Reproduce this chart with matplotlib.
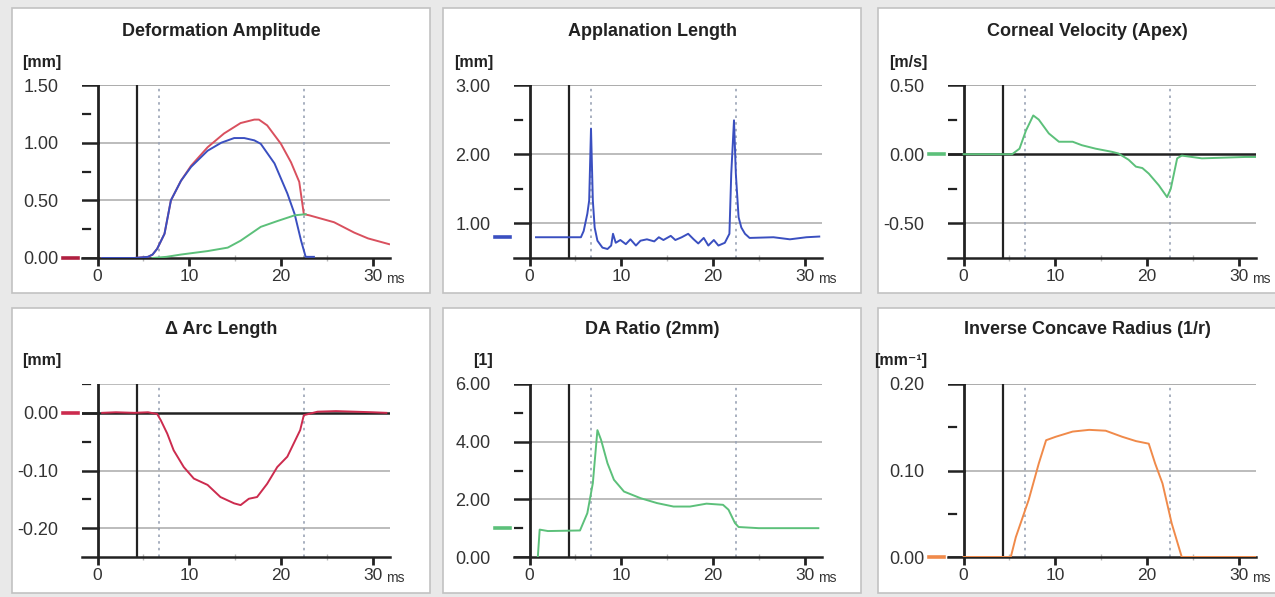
import matplotlib
matplotlib.use("Agg")
import matplotlib.pyplot as plt
import matplotlib.transforms as mtransforms
from matplotlib.patches import Rectangle

plt.rcParams["font.family"] = ["Liberation Sans", "DejaVu Sans"]

# ---- data (time in ms) ----
titles = ["Deformation Amplitude", "Applanation Length", "Corneal Velocity (Apex)",
          "\u0394 Arc Length", "DA Ratio (2mm)", "Inverse Concave Radius (1/r)"]
units = ["[mm]", "[mm]", "[m/s]", "[mm]", "[1]", "[mm\u207b\u00b9]"]

da_red_t = [0.5, 4.0, 5.5, 6.0, 6.5, 7.3, 8.0, 9.1, 10.2, 12.0, 13.8, 15.6, 17.1, 17.6,
            18.5, 20.0, 21.1, 22.0, 22.5, 23.1, 25.8, 28.0, 29.5, 31.8]
da_red_v = [0.0, 0.0, 0.01, 0.03, 0.08, 0.21, 0.50, 0.67, 0.80, 0.96, 1.08, 1.17, 1.20, 1.20,
            1.15, 0.99, 0.83, 0.66, 0.38, 0.37, 0.31, 0.22, 0.17, 0.12]
da_blue_t = [0.5, 4.0, 5.5, 6.0, 6.5, 7.3, 8.0, 9.1, 10.2, 12.0, 13.5, 14.9, 16.0, 17.1,
             17.8, 19.3, 20.7, 21.5, 22.2, 22.7, 23.6]
da_blue_v = [0.0, 0.0, 0.01, 0.03, 0.08, 0.21, 0.50, 0.67, 0.79, 0.93, 1.00, 1.04, 1.04, 1.02,
             0.99, 0.82, 0.56, 0.38, 0.15, 0.01, 0.01]
da_green_t = [6.0, 7.5, 9.1, 12.0, 14.2, 15.6, 17.8, 19.6, 21.5, 22.7]
da_green_v = [0.0, 0.01, 0.03, 0.06, 0.09, 0.15, 0.27, 0.32, 0.37, 0.38]

al_t = [0.7, 5.6, 5.9, 6.3, 6.5, 6.7, 6.9, 7.1, 7.4, 7.95, 8.5, 8.9, 9.1, 9.4, 9.9, 10.5,
        11.0, 11.6, 12.1, 12.8, 13.6, 14.1, 14.6, 15.4, 15.9, 16.6, 17.3, 17.9, 18.4, 19.0,
        19.5, 20.1, 20.6, 21.3, 21.8, 22.0, 22.3, 22.5, 22.8, 23.1, 23.5, 24.0, 26.6, 28.4,
        30.2, 31.6]
al_v = [0.80, 0.80, 0.89, 1.14, 1.33, 2.37, 1.33, 0.94, 0.75, 0.65, 0.63, 0.68, 0.85, 0.72,
        0.76, 0.70, 0.77, 0.68, 0.75, 0.77, 0.74, 0.80, 0.76, 0.82, 0.76, 0.80, 0.85, 0.77,
        0.71, 0.79, 0.68, 0.76, 0.68, 0.72, 0.85, 1.72, 2.49, 1.72, 1.09, 0.94, 0.85, 0.79,
        0.80, 0.77, 0.80, 0.81]

cv_t = [0.0, 5.3, 6.1, 6.8, 7.6, 8.2, 9.3, 10.4, 11.9, 12.9, 14.4, 16.2, 16.9, 18.0, 18.8,
        19.5, 20.2, 21.3, 22.2, 22.6, 23.3, 23.8, 26.0, 30.7, 31.8]
cv_v = [0.0, 0.0, 0.04, 0.17, 0.28, 0.25, 0.15, 0.09, 0.09, 0.065, 0.04, 0.017, 0.005, -0.04,
        -0.09, -0.10, -0.14, -0.225, -0.31, -0.25, -0.03, -0.01, -0.03, -0.02, -0.02]

arc_t = [0.5, 2.0, 4.0, 5.5, 6.5, 6.9, 7.6, 8.3, 9.4, 10.5, 12.0, 13.4, 14.9, 15.6, 16.5,
         17.4, 18.5, 19.6, 20.7, 21.4, 22.1, 22.5, 24.0, 26.0, 28.0, 30.0, 31.5]
arc_v = [0.0, 0.001, 0.0, 0.001, -0.002, -0.013, -0.036, -0.065, -0.094, -0.114, -0.125,
         -0.146, -0.157, -0.160, -0.149, -0.146, -0.123, -0.094, -0.076, -0.053, -0.030,
         -0.004, 0.002, 0.003, 0.002, 0.001, 0.0]

dar_t = [0.9, 1.1, 2.0, 5.5, 6.3, 6.9, 7.4, 7.8, 8.5, 9.2, 10.3, 12.1, 13.9, 15.7, 17.5,
         19.3, 21.1, 21.7, 22.4, 22.8, 25.0, 31.5]
dar_v = [0.0, 0.95, 0.90, 0.92, 1.52, 2.56, 4.40, 4.06, 3.25, 2.68, 2.27, 2.04, 1.87, 1.75,
         1.75, 1.85, 1.81, 1.64, 1.18, 1.04, 1.0, 1.0]

icr_t = [0.0, 5.15, 5.7, 7.1, 8.2, 9.0, 10.05, 11.9, 13.7, 15.5, 17.3, 18.8, 20.2, 20.9,
         21.7, 22.7, 23.8, 31.8]
icr_v = [0.0, 0.0, 0.023, 0.066, 0.108, 0.135, 0.139, 0.145, 0.147, 0.146, 0.139, 0.134,
         0.131, 0.108, 0.085, 0.039, 0.0, 0.0]

start_marks = [0.0, 0.8, 0.0, 0.0, 1.0, 0.0]
y_limits = [(0, 1.5), (0.5, 3.0), (-0.75, 0.5), (-0.25, 0.05), (0, 6), (0, 0.2)]
y_major = [[0, 0.5, 1.0, 1.5], [1, 2, 3], [-0.5, 0, 0.5], [-0.2, -0.1, 0.0], [0, 2, 4, 6], [0, 0.1, 0.2]]
y_minor = [[0.25, 0.75, 1.25], [1.5, 2.5], [-0.25, 0.25], [-0.15, -0.05, 0.05], [1, 3, 5], [0.05, 0.15]]

RED, BLUE, GREEN, ORANGE, CRIMSON = "#d9505e", "#3a4fc0", "#5cc07a", "#f08a4a", "#cc2b4e"
series = [
    [(da_red_t, da_red_v, RED), (da_blue_t, da_blue_v, BLUE), (da_green_t, da_green_v, GREEN)],
    [(al_t, al_v, BLUE)],
    [(cv_t, cv_v, GREEN)],
    [(arc_t, arc_v, CRIMSON)],
    [(dar_t, dar_v, GREEN)],
    [(icr_t, icr_v, ORANGE)],
]
mark_colors = ["#b02040", BLUE, GREEN, CRIMSON, GREEN, ORANGE]

XLIM = (-1.7, 31.9)
W, H = 1275, 597
fig = plt.figure(figsize=(W / 100, H / 100), dpi=100, facecolor="#e9e9e9")

panel_left = [12, 443, 878]
panel_top = [8, 308]
panel_w, panel_h = 418, 285
axes_left = [82, 514, 948]
axes_top = [85, 384]
axes_w, axes_h = 308, 173
title_y = [32, 330]
unit_y = [62, 360]
BLACK = "#222222"
frac0 = (0 - XLIM[0]) / (XLIM[1] - XLIM[0])

for i in range(6):
    r, c = divmod(i, 3)
    fig.add_artist(Rectangle((panel_left[c] / W, 1 - (panel_top[r] + panel_h) / H),
                             panel_w / W, panel_h / H, transform=fig.transFigure,
                             facecolor="white", edgecolor="#c2c2c2", lw=1.2, zorder=-10))
    ax = fig.add_axes([axes_left[c] / W, 1 - (axes_top[r] + axes_h) / H, axes_w / W, axes_h / H])
    ax.set_facecolor("none")
    ylo, yhi = y_limits[i]
    ax.set_xlim(XLIM)
    ax.set_ylim(ylo, yhi)
    for s in ["top", "right", "left"]:
        ax.spines[s].set_visible(False)
    ax.spines["bottom"].set_color(BLACK)
    ax.spines["bottom"].set_linewidth(1.8)

    # grid + y ticks drawn like the instrument software
    for v in y_major[i] + [yhi]:
        if v == ylo:
            continue
        if v == 0:
            ax.axhline(0, color=BLACK, lw=1.8, zorder=2)
        else:
            ax.axhline(v, xmin=frac0, color="#a9a9a9", lw=1.1, zorder=1)
    for v in y_major[i]:
        ax.axhline(v, xmin=0, xmax=frac0, color=BLACK, lw=1.8, zorder=2)
    for v in y_minor[i]:
        ax.axhline(v, xmin=0.004, xmax=0.026, color=BLACK, lw=1.6, zorder=2)

    ax.axvline(0, color=BLACK, lw=2.0, zorder=2)
    ax.axvline(4.35, color=BLACK, lw=1.6, zorder=2)
    for xv in (6.7, 22.5):
        ax.axvline(xv, color="#9aa3b5", lw=1.2, ls=(0, (1.5, 2.5)), zorder=1)

    for t, v, col in series[i]:
        ax.plot(t, v, color=col, lw=1.4, zorder=3)

    trans = mtransforms.blended_transform_factory(ax.transAxes, ax.transData)
    ax.plot([-0.062, -0.013], [start_marks[i]] * 2, color=mark_colors[i], lw=2.6,
            transform=trans, clip_on=False, zorder=3)

    ax.set_yticks(y_major[i])
    ax.set_yticklabels(["%.2f" % v for v in y_major[i]])
    ax.tick_params(axis="y", length=0, pad=17, labelsize=13, labelcolor="#333333")
    ax.set_xticks([0, 10, 20, 30])
    ax.set_xticks([5, 15, 25], minor=True)
    ax.tick_params(axis="x", which="major", direction="out", length=6, width=2,
                   color=BLACK, pad=2, labelsize=12.5, labelcolor="#333333")
    ax.tick_params(axis="x", which="minor", direction="inout", length=4, width=1,
                   color="#b8b8b8")
    ax.annotate("ms", xy=(30, ylo), xycoords="data", xytext=(9.5, -15),
                textcoords="offset points", ha="left", va="center", fontsize=10,
                color="#333333", annotation_clip=False)

    fig.text((panel_left[c] + panel_w / 2) / W, 1 - title_y[r] / H, titles[i],
             ha="center", va="center", fontsize=13, fontweight="bold", color="#222222")
    fig.text((axes_left[c] - 21) / W, 1 - unit_y[r] / H, units[i],
             ha="right", va="center", fontsize=11.5, fontweight="bold", color="#222222")

fig.savefig("out.png", dpi=100, facecolor=fig.get_facecolor())
